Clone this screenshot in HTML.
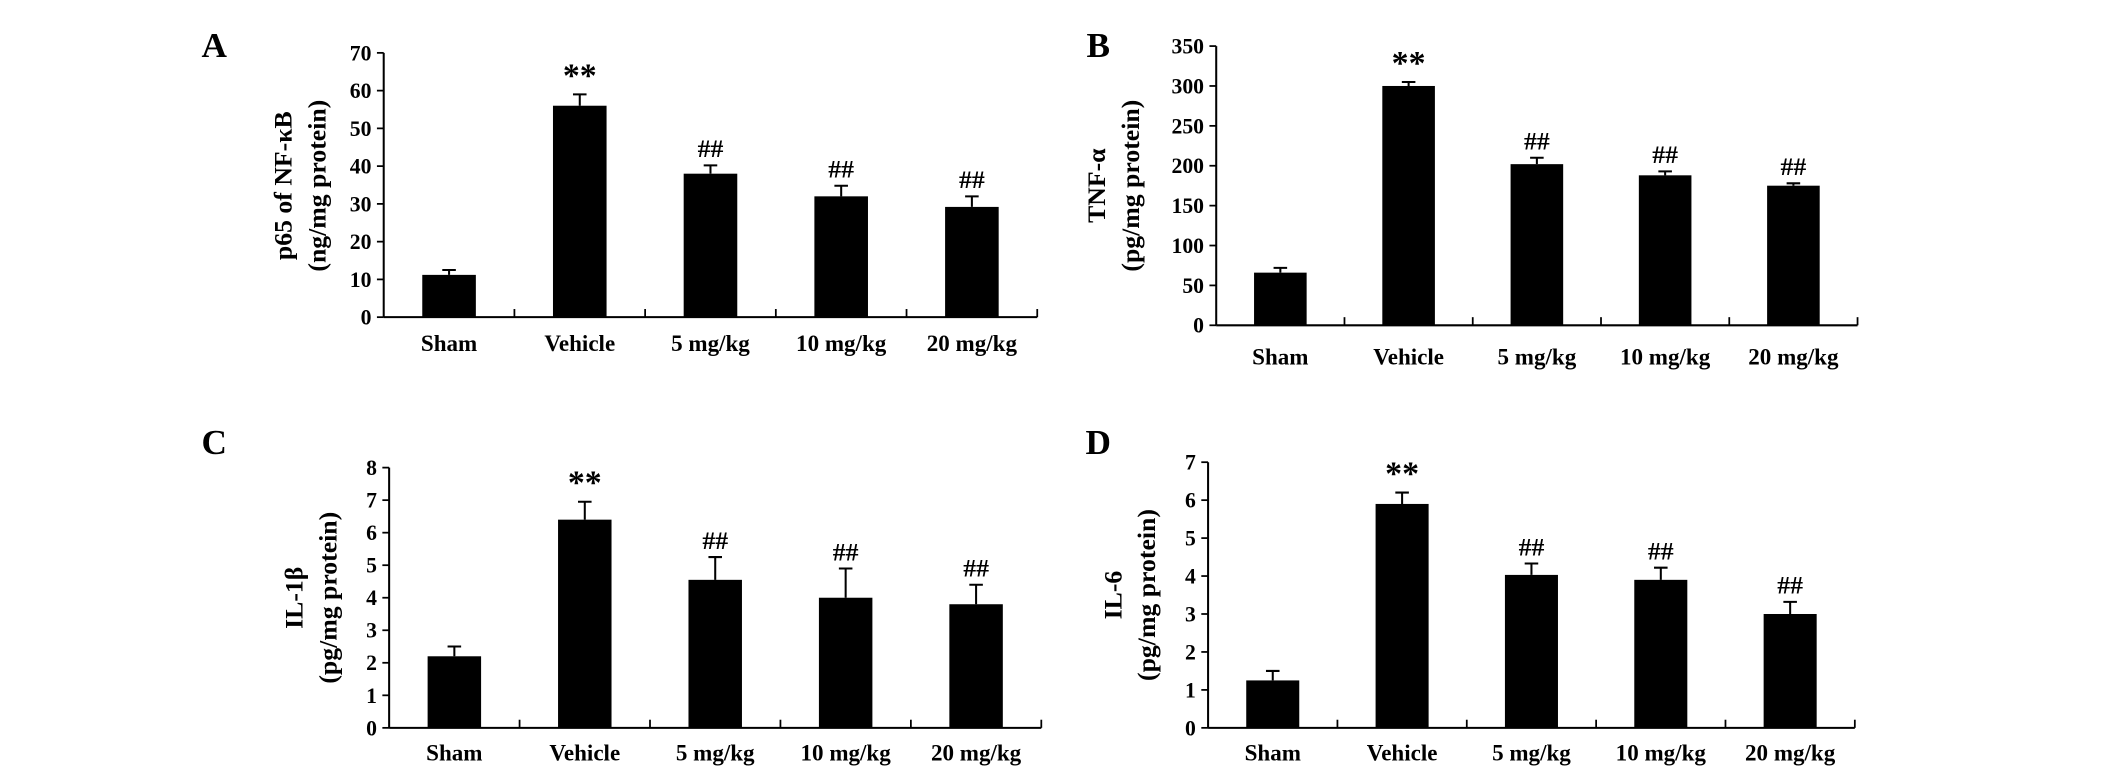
<!DOCTYPE html>
<html><head><meta charset="utf-8"><style>
html,body{margin:0;padding:0;background:#fff;}
svg{display:block;}
text{font-family:"Liberation Serif",serif;font-weight:bold;fill:#000;}
</style></head><body>
<svg id="fig" width="2126" height="778" viewBox="0 0 1568 574" preserveAspectRatio="none" xmlns="http://www.w3.org/2000/svg"></svg>
<script>
const categories = ["Sham","Vehicle","5 mg/kg","10 mg/kg","20 mg/kg"];
const valuesA = [11.2,56,38,32,29.2];
const errorsA = [1.3,3,2.2,2.8,2.8];
const valuesB = [66,300,202,188,175];
const errorsB = [6,5,8,5,3];
const valuesC = [2.2,6.4,4.55,4.0,3.8];
const errorsC = [0.3,0.55,0.7,0.9,0.6];
const valuesD = [1.25,5.9,4.03,3.9,3.0];
const errorsD = [0.25,0.3,0.3,0.32,0.32];
const marks = ["","**","##","##","##"];
const ticksA = [0,10,20,30,40,50,60,70];
const ticksB = [0,50,100,150,200,250,300,350];
const ticksC = [0,1,2,3,4,5,6,7,8];
const ticksD = [0,1,2,3,4,5,6,7];

const NS="http://www.w3.org/2000/svg";
const svg=document.getElementById('fig');
function mk(tag,attrs,parent){const e=document.createElementNS(NS,tag);for(const k in attrs)e.setAttribute(k,attrs[k]);(parent||svg).appendChild(e);return e;}

const panels=[
 {id:"a",letter:"A",lx:158,ly:42,x0:283,x1:765,yTop:39,yBot:234,max:70,ticks:ticksA,vals:valuesA,errs:errorsA,lab1:"p65 of NF-κB",lab2:"(ng/mg protein)",labX:215,labY:137,catY:259},
 {id:"b",letter:"B",lx:810,ly:42,x0:897,x1:1370,yTop:34,yBot:240,max:350,ticks:ticksB,vals:valuesB,errs:errorsB,lab1:"TNF-α",lab2:"(pg/mg protein)",labX:815,labY:137,catY:269},
 {id:"c",letter:"C",lx:158,ly:335,x0:287,x1:768,yTop:345,yBot:537,max:8,ticks:ticksC,vals:valuesC,errs:errorsC,lab1:"IL-1β",lab2:"(pg/mg protein)",labX:223,labY:441,catY:561},
 {id:"d",letter:"D",lx:810,ly:335,x0:891,x1:1368,yTop:341,yBot:537,max:7,ticks:ticksD,vals:valuesD,errs:errorsD,lab1:"IL-6",lab2:"(pg/mg protein)",labX:827,labY:439,catY:561}
];

panels.forEach(p=>{
  const g=mk('g',{});
  
  
  const y=v=>p.yBot-(v/p.max)*(p.yBot-p.yTop);
  const step=(p.x1-p.x0)/categories.length;
  const cx=i=>p.x0+step*(i+0.5);
  const bw=step*0.41;
  const L=mk('text',{x:p.lx,y:p.ly,'font-size':26,'text-anchor':'middle'},g);L.textContent=p.letter;
  
  
  const ya=mk('line',{x1:p.x0,y1:p.yTop,x2:p.x0,y2:p.yBot,stroke:'#000','stroke-width':1.5},g);
  
  
  const xa=mk('line',{x1:p.x0,y1:p.yBot,x2:p.x1,y2:p.yBot,stroke:'#000','stroke-width':1.5},g);
  
  
  p.ticks.forEach(t=>{
    mk('line',{x1:p.x0-5,y1:y(t),x2:p.x0,y2:y(t),stroke:'#000','stroke-width':1.3},g);
    const tl=mk('text',{x:p.x0-9,y:y(t)+5.5,'font-size':16,'text-anchor':'end'},g);tl.textContent=t;
    
    
  });
  for(let i=1;i<=categories.length;i++){
    mk('line',{x1:p.x0+step*i,y1:p.yBot-6,x2:p.x0+step*i,y2:p.yBot,stroke:'#000','stroke-width':1.3},g);
  }
  const yt=mk('text',{transform:`translate(${p.labX},${p.labY}) rotate(-90)`,'font-size':19,'text-anchor':'middle'},g);
  
  
  const s1=mk('tspan',{x:0,y:0},yt);s1.textContent=p.lab1;
  const s2=mk('tspan',{x:0,y:25},yt);s2.textContent=p.lab2;
  categories.forEach((c,i)=>{
    const v=p.vals[i],e=p.errs[i];
    const b=mk('rect',{x:cx(i)-bw/2,y:y(v),width:bw,height:p.yBot-y(v),fill:'#000'},g);
    
    
    const eb=mk('path',{d:`M${cx(i)},${y(v)} V${y(v+e)} M${cx(i)-5},${y(v+e)} H${cx(i)+5}`,stroke:'#000','stroke-width':1.5,fill:'none'},g);
    
    
    if(marks[i]){
      const big=marks[i]==="**";
      const m=mk('text',{x:cx(i),y:y(v+e)-(big?6:6),'font-size':big?25:19,'font-weight':big?'bold':'normal','text-anchor':'middle'},g);
      m.textContent=marks[i];
      
      
    }
    const cl=mk('text',{x:cx(i),y:p.catY,'font-size':17,'text-anchor':'middle'},g);cl.textContent=c;
    
    
  });
});
</script>
</body></html>
